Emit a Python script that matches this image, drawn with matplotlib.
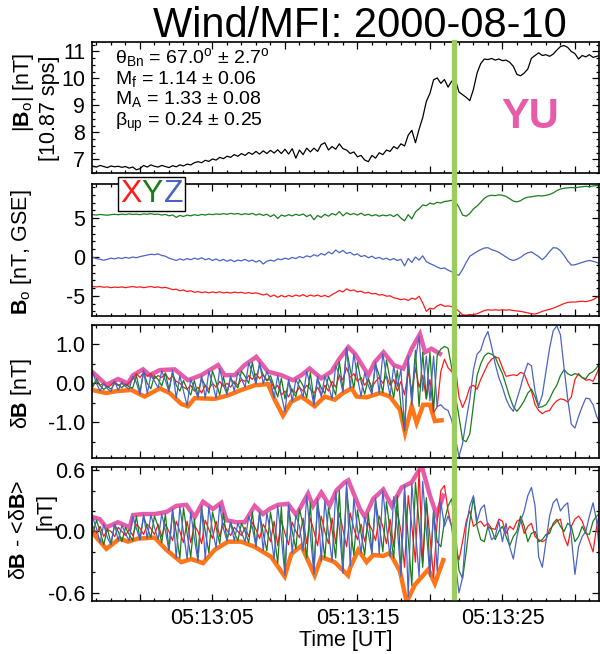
import numpy as np
import matplotlib
matplotlib.use("Agg")
import matplotlib.pyplot as plt
import matplotlib.transforms as mtransforms
from matplotlib.lines import Line2D
from matplotlib.patches import Rectangle
from matplotlib.ticker import MultipleLocator, FuncFormatter, FormatStrFormatter

plt.rcParams['font.family'] = ['Liberation Sans', 'DejaVu Sans']
plt.rcParams['mathtext.fontset'] = 'custom'
plt.rcParams['mathtext.rm'] = 'Liberation Sans'
plt.rcParams['mathtext.it'] = 'Liberation Sans:italic'
plt.rcParams['mathtext.bf'] = 'Liberation Sans:bold'
plt.rcParams['axes.unicode_minus'] = False

# sample times, seconds after 05:13:00 UT
t = np.round(np.arange(-3.25, 31.76, 0.25), 2)
t_shock = 21.66

# |Bo| [nT]
bmag = [6.75, 6.72, 6.78, 6.74, 6.70, 6.76, 6.73, 6.75, 6.71, 6.74, 6.68, 6.72,
        6.62, 6.66, 6.78, 6.72, 6.80, 6.75, 6.72, 6.78, 6.74, 6.70, 6.77, 6.73,
        6.80, 6.76, 6.83, 6.80, 6.88, 6.92, 6.88, 6.97, 6.93, 7.02, 6.98, 7.08,
        7.03, 7.12, 7.08, 7.18, 7.12, 7.22, 7.15, 7.26, 7.19, 7.30, 7.20, 7.32,
        7.22, 7.34, 7.24, 7.36, 7.22, 7.38, 7.20, 7.40, 7.05, 7.35, 7.18, 7.42,
        7.28, 7.42, 7.30, 7.55, 7.62, 7.35, 7.48, 7.38, 7.58, 7.40, 7.35, 7.22,
        7.28, 7.10, 7.15, 6.98, 6.92, 7.15, 7.05, 7.25, 7.18, 7.35, 7.30, 7.48,
        7.40, 7.58, 7.50, 7.90, 8.08, 7.62, 8.12, 8.55, 9.15, 9.45, 9.95, 10.02,
        9.82, 9.96, 9.68, 9.90, 9.95, 9.50, 9.40, 9.30, 9.18, 9.60, 10.20, 10.55,
        10.72, 10.70, 10.74, 10.68, 10.72, 10.66, 10.68, 10.60, 10.45, 10.15, 10.10, 10.20,
        10.35, 10.75, 10.85, 10.95, 10.85, 10.88, 10.82, 10.90, 11.05, 11.18, 11.22, 11.15,
        11.00, 10.92, 10.72, 10.85, 10.80, 10.88, 10.78, 10.82, 10.86]

# Bo GSE components [nT]
bx = [-3.80, -3.85, -3.80, -3.90, -3.85, -3.95, -3.88, -3.92, -3.85, -3.95, -3.88, -3.80,
      -3.90, -3.85, -3.95, -3.88, -3.80, -3.92, -3.85, -3.98, -3.90, -4.05, -4.20, -4.15,
      -4.35, -4.25, -4.45, -4.35, -4.55, -4.45, -4.60, -4.50, -4.62, -4.50, -4.60, -4.48,
      -4.62, -4.55, -4.65, -4.52, -4.60, -4.55, -4.68, -4.58, -4.70, -4.62, -4.75, -4.90,
      -4.75, -5.10, -4.90, -5.20, -4.95, -5.15, -4.95, -5.10, -4.90, -5.05, -4.85, -5.10,
      -4.90, -5.05, -4.90, -5.10, -4.95, -5.15, -4.85, -4.60, -4.30, -4.50, -4.10, -4.35,
      -4.25, -4.50, -4.40, -4.65, -4.55, -4.75, -4.70, -4.90, -4.85, -5.05, -5.00, -5.25,
      -5.35, -5.50, -5.40, -5.60, -5.30, -5.45, -5.05, -5.90, -7.00, -6.60, -6.70, -6.30,
      -6.10, -6.35, -6.30, -6.40, -6.55, -7.00, -7.45, -7.50, -7.40, -7.45, -7.30, -7.10,
      -6.90, -6.80, -6.85, -6.80, -6.85, -6.80, -6.85, -6.80, -6.90, -6.95, -7.00, -7.10,
      -7.20, -7.30, -7.35, -7.20, -7.00, -6.85, -6.75, -6.60, -6.40, -6.20, -6.00, -5.85,
      -5.80, -5.80, -5.75, -5.70, -5.75, -5.65, -5.50, -5.20, -5.05]
by = [5.45, 5.40, 5.48, 5.42, 5.38, 5.45, 5.50, 5.44, 5.52, 5.46, 5.55, 5.48,
      5.52, 5.45, 5.55, 5.50, 5.58, 5.48, 5.52, 5.40, 5.48, 5.30, 5.42, 5.10,
      5.35, 5.22, 5.40, 5.30, 5.45, 5.35, 5.48, 5.40, 5.52, 5.45, 5.55, 5.48,
      5.58, 5.50, 5.62, 5.52, 5.60, 5.45, 5.58, 5.48, 5.62, 5.40, 5.55, 5.35,
      5.50, 5.20, 5.45, 4.95, 5.40, 5.25, 5.45, 5.30, 5.50, 5.35, 5.55, 5.20,
      5.45, 4.80, 5.35, 5.10, 5.50, 5.25, 5.60, 5.40, 5.85, 5.30, 5.70, 5.45,
      5.60, 5.40, 5.65, 5.35, 5.50, 5.30, 5.45, 5.25, 5.40, 5.30, 5.45, 5.20,
      5.50, 5.00, 4.65, 5.45, 4.90, 5.80, 6.20, 6.70, 6.60, 6.95, 6.80, 7.05,
      6.95, 7.15, 7.20, 7.30, 7.15, 6.40, 5.40, 5.25, 5.60, 6.20, 6.55, 7.05,
      7.55, 7.85, 7.95, 7.90, 8.00, 7.95, 7.80, 7.50, 7.20, 7.10, 7.25, 7.55,
      7.70, 7.75, 7.85, 7.90, 7.85, 7.95, 8.05, 8.25, 8.55, 8.75, 8.85, 8.90,
      8.95, 8.90, 9.00, 9.05, 9.10, 9.05, 9.15, 9.20, 9.15]
bz = [-0.05, -0.20, -0.30, -0.42, -0.30, -0.15, -0.25, -0.10, -0.20, -0.05, -0.15, 0.00,
      -0.10, 0.05, 0.15, 0.25, 0.35, 0.30, 0.40, 0.20, 0.10, -0.15, -0.30, -0.45,
      -0.25, -0.40, -0.20, -0.35, -0.15, -0.30, -0.10, -0.35, -0.20, -0.45, -0.25, -0.50,
      -0.30, -0.55, -0.35, -0.60, -0.40, -0.50, -0.30, -0.55, -0.40, -0.65, -0.45, -0.90,
      -0.55, -0.40, -0.55, -0.25, -0.35, -0.15, -0.30, -0.05, -0.20, 0.05, -0.10, 0.15,
      0.00, 0.30, 0.10, 0.45, 0.25, 0.65, 0.40, 0.90, 0.55, 0.85, 0.45, 0.60,
      0.25, 0.40, 0.05, 0.20, -0.10, 0.10, -0.20, -0.05, -0.30, -0.15, -0.40, -0.20,
      -0.45, -0.30, -1.15, -0.20, -0.70, 0.00, -0.40, 0.15, -0.60, -0.85, -1.05, -1.30,
      -1.50, -1.40, -1.70, -1.90, -2.20, -2.35, -1.60, -0.70, 0.10, 0.40, 0.70, 0.95,
      1.15, 1.20, 0.95, 0.80, 0.60, 0.30, 0.00, -0.30, -0.45, -0.30, -0.05, 0.30,
      0.55, 0.65, 0.35, 0.05, -0.35, 0.10, 0.70, 1.20, 1.15, 0.80, 0.20, -0.50,
      -1.05, -1.00, -0.85, -0.70, -0.55, -0.45, -0.55, -0.70, -0.90]

# dB [nT]
dbx = [-0.05, 0.05, -0.05, 0.00, -0.10, -0.05, 0.05, -0.05, 0.00, -0.08, 0.02, 0.10,
       0.25, 0.15, 0.28, 0.18, 0.25, 0.12, 0.20, 0.15, 0.25, 0.10, 0.18, 0.05,
       0.00, -0.10, -0.15, -0.05, -0.20, -0.10, -0.25, -0.05, -0.15, 0.00, -0.10, 0.05,
       -0.08, 0.00, -0.10, 0.05, -0.05, 0.10, 0.05, 0.20, 0.10, 0.25, 0.12, 0.22,
       0.08, 0.10, -0.15, -0.05, -0.30, -0.20, -0.35, -0.15, -0.25, -0.10, -0.20, -0.05,
       -0.15, -0.25, -0.10, -0.30, -0.05, -0.20, 0.05, -0.10, 0.20, 0.10, 0.40, 0.15,
       0.25, 0.05, 0.15, -0.05, 0.10, -0.10, 0.05, 0.15, 0.00, 0.20, -0.05, 0.10,
       -0.20, 0.05, -0.30, 0.30, -0.20, 0.40, -0.10, 0.20, -0.40, 0.10, -0.75, -0.60,
       0.30, 0.62, 0.40, 0.30, 0.45, -0.35, -0.62, -0.40, -0.10, -0.05, -0.15, 0.10,
       0.30, 0.50, 0.62, 0.68, 0.65, 0.40, 0.18, 0.20, 0.22, 0.20, 0.28, 0.25,
       0.00, -0.20, -0.55, -0.70, -0.78, -0.72, -0.70, -0.55, -0.45, -0.40, -0.42, -0.48,
       -0.35, 0.10, 0.25, 0.15, 0.08, 0.10, 0.05, 0.25, 0.48]
dby = [-0.09, 0.12, -0.06, -0.16, -0.08, -0.15, 0.00, -0.05, -0.11, -0.02, -0.09, -0.12,
       0.20, -0.22, 0.28, 0.00, -0.14, 0.20, 0.10, -0.07, 0.27, -0.16, 0.28, -0.05,
       -0.20, 0.07, -0.15, -0.30, 0.07, -0.31, 0.13, -0.06, -0.25, 0.32, 0.03, -0.30,
       0.17, -0.23, 0.13, 0.00, -0.12, 0.32, 0.18, 0.00, 0.54, 0.04, 0.48, 0.21,
       0.06, 0.20, -0.08, -0.35, 0.13, -0.40, 0.04, -0.20, -0.34, 0.10, -0.06, -0.37,
       0.28, -0.45, 0.12, -0.12, -0.26, 0.18, -0.05, -0.30, 0.56, -0.17, 0.87, 0.36,
       -0.12, 0.54, 0.05, -0.28, 0.13, -0.22, 0.49, 0.20, -0.24, 0.60, 0.09, -0.37,
       0.34, -0.60, -1.22, 0.55, -0.40, 0.85, -0.60, 0.80, -0.40, 0.80, -0.70, 0.72,
       0.88, 0.95, 0.90, 0.40, -0.30, -0.85, -1.45, -1.50, -1.30, -0.55, 0.20, 0.50,
       0.70, 0.78, 0.75, 0.68, 0.45, 0.25, -0.05, -0.35, -0.60, -0.72, -0.60, -0.45,
       -0.25, -0.15, -0.35, -0.62, -0.60, -0.55, -0.40, -0.20, -0.05, 0.20, 0.35, 0.25,
       0.20, 0.25, 0.22, 0.15, 0.12, 0.25, 0.30, 0.40, 0.55]
dbz = [0.28, 0.00, -0.20, 0.00, -0.14, -0.21, 0.06, -0.18, 0.04, -0.08, -0.15, 0.18,
       0.02, -0.28, 0.34, -0.26, 0.20, 0.06, -0.12, 0.32, 0.08, -0.22, 0.34, -0.38,
       0.20, -0.20, -0.57, 0.10, -0.12, -0.37, 0.19, -0.38, 0.31, 0.00, -0.38, 0.38,
       -0.04, -0.29, 0.19, -0.20, 0.28, 0.12, -0.10, 0.53, 0.28, -0.02, 0.54, -0.01,
       0.31, 0.06, -0.38, 0.21, -0.31, -0.73, 0.10, -0.46, 0.10, -0.09, -0.35, 0.31,
       -0.08, -0.57, 0.18, -0.35, 0.18, -0.06, -0.40, 0.46, 0.21, -0.23, 0.93, -0.13,
       0.76, 0.14, -0.33, 0.28, -0.06, -0.28, 0.55, -0.26, 0.76, 0.18, -0.32, 0.44,
       -0.08, 0.36, -1.18, 0.70, -0.57, 0.60, 1.22, -0.20, 0.70, -0.45, 0.70, -0.60,
       -0.55, -0.65, -0.70, -0.95, -1.40, -1.88, -1.55, -0.95, -0.40, 0.35, 0.75, 0.85,
       1.15, 1.33, 0.95, 0.50, 0.15, -0.10, -0.40, -0.60, -0.72, -0.40, -0.10, 0.25,
       0.52, 0.45, -0.20, -0.58, -0.30, 0.30, 0.90, 1.35, 1.48, 1.25, 0.40, -0.40,
       -1.05, -1.15, -0.85, -0.60, -0.38, -0.40, -0.55, -0.85, -1.05]

# upstream envelopes of dB
up3_t = [-3.31, -2.32, -1.52, -0.83, -0.48, 0.21, 0.67, 1.36, 2.39, 3.31, 4.23, 5.38,
         5.84, 6.53, 7.22, 8.02, 8.83, 9.75, 10.55, 11.13, 11.70, 12.50, 13.20, 13.77,
         14.37, 14.83, 15.75, 16.20, 16.80, 17.50, 18.16, 18.74, 19.31, 19.66, 20.10, 20.69]
up3 = [0.30, -0.04, 0.11, 0.00, 0.21, 0.36, 0.21, 0.34, 0.36, 0.08, 0.21, 0.47,
       0.21, 0.21, 0.47, 0.68, 0.30, 0.21, 0.08, 0.21, 0.38, 0.13, 0.30, 0.64,
       0.93, 0.76, 0.21, 0.55, 0.80, 0.47, 0.38, 0.89, 1.27, 0.80, 0.89, 0.76]
lo3_t = [-3.31, -2.32, -1.63, -0.60, 0.32, 1.36, 2.05, 2.85, 3.31, 3.77, 5.15, 6.07,
         6.99, 7.91, 8.83, 9.29, 9.86, 10.44, 11.13, 12.05, 12.74, 13.43, 14.00, 14.60,
         14.94, 15.63, 16.55, 17.24, 17.93, 18.28, 18.74, 19.08, 19.54, 20.00, 20.34, 20.80]
lo3 = [-0.17, -0.25, -0.20, -0.17, -0.34, -0.13, -0.25, -0.53, -0.59, -0.38, -0.40, -0.31,
       -0.17, -0.05, -0.02, -0.42, -0.83, -0.47, -0.34, -0.59, -0.34, -0.42, -0.25, -0.13,
       -0.34, -0.36, -0.25, -0.34, -0.68, -1.27, -0.59, -1.02, -0.55, -0.55, -0.97, -0.95]

# dB - <dB> [nT]
hbx = [0.05, -0.02, 0.05, -0.05, 0.02, 0.00, -0.05, 0.04, 0.00, -0.04, 0.02, -0.04,
       0.07, 0.03, -0.03, 0.07, 0.03, -0.03, 0.07, -0.05, 0.07, 0.00, -0.09, 0.10,
       0.00, -0.11, 0.10, -0.11, 0.06, 0.00, -0.12, 0.11, 0.02, -0.07, 0.10, -0.05,
       0.08, 0.01, -0.04, 0.04, 0.00, -0.04, 0.04, -0.05, 0.09, 0.02, -0.07, 0.07,
       0.00, -0.10, 0.10, -0.14, 0.11, -0.02, -0.13, 0.09, 0.00, -0.06, 0.13, -0.12,
       0.13, 0.00, -0.14, 0.15, 0.00, -0.12, 0.13, -0.12, 0.18, 0.02, -0.15, 0.18,
       0.03, -0.08, 0.07, -0.10, 0.08, 0.02, -0.09, 0.15, 0.05, -0.12, 0.12, -0.15,
       0.20, 0.00, -0.35, 0.35, 0.05, -0.30, 0.60, -0.30, 0.30, -0.05, -0.45, 0.10,
       0.40, 0.45, 0.20, 0.05, -0.15, -0.28, -0.10, 0.10, 0.20, 0.05, 0.08, 0.10,
       0.05, 0.08, 0.03, 0.02, 0.12, 0.10, -0.02, 0.05, 0.02, 0.10, 0.12, -0.02,
       0.05, 0.08, -0.05, -0.08, -0.10, -0.08, 0.02, 0.06, 0.10, 0.12, -0.05, -0.14,
       0.05, 0.12, 0.15, 0.10, 0.00, -0.10, -0.20, 0.05, 0.22]
hby = [-0.02, 0.11, 0.00, -0.13, 0.03, -0.12, 0.07, 0.00, -0.10, 0.04, -0.03, -0.09,
       0.15, -0.08, 0.15, 0.04, -0.06, 0.15, 0.05, -0.11, 0.17, -0.18, 0.20, -0.01,
       -0.26, 0.23, -0.02, -0.25, 0.12, -0.26, 0.23, 0.00, -0.21, 0.19, 0.04, -0.12,
       0.18, -0.09, 0.09, -0.01, -0.09, 0.08, 0.00, -0.11, 0.19, -0.14, 0.18, -0.02,
       -0.19, 0.19, -0.03, -0.31, 0.24, -0.39, 0.24, 0.00, -0.17, 0.22, 0.06, -0.26,
       0.28, -0.38, 0.29, 0.04, -0.26, 0.23, 0.02, -0.26, 0.40, -0.37, 0.43, 0.05,
       -0.23, 0.21, -0.02, -0.23, 0.18, -0.20, 0.30, 0.07, -0.20, 0.29, 0.00, -0.26,
       0.35, -0.40, 0.40, -0.06, -0.53, 0.48, 0.08, -0.35, 0.33, -0.40, 0.19, -0.10,
       -0.15, 0.10, 0.25, 0.32, 0.00, -0.38, -0.46, -0.20, 0.10, 0.33, 0.05, -0.08,
       -0.10, 0.05, 0.02, -0.08, 0.00, 0.05, -0.05, -0.14, -0.05, 0.00, 0.15, 0.05,
       -0.10, -0.02, 0.00, -0.10, -0.08, -0.03, -0.02, 0.08, 0.12, 0.05, 0.00, 0.08,
       0.05, -0.10, -0.05, 0.05, -0.02, -0.03, 0.10, 0.15, 0.18]
hbz = [0.13, 0.03, -0.11, 0.07, -0.06, -0.13, 0.07, -0.09, 0.06, -0.02, -0.09, 0.15,
       0.03, -0.08, 0.16, -0.07, 0.16, 0.04, -0.08, 0.17, 0.01, -0.19, 0.22, -0.26,
       0.24, -0.01, -0.27, 0.19, -0.07, -0.29, 0.25, -0.27, 0.24, 0.01, -0.16, 0.26,
       0.03, -0.09, 0.09, -0.09, 0.08, -0.01, -0.10, 0.15, 0.04, -0.15, 0.19, -0.19,
       0.18, -0.01, -0.27, 0.25, -0.06, -0.43, 0.26, -0.21, 0.16, 0.05, -0.19, 0.35,
       -0.03, -0.42, 0.32, -0.29, 0.30, -0.02, -0.29, 0.39, 0.03, -0.41, 0.48, -0.34,
       0.32, 0.03, -0.21, 0.14, -0.02, -0.22, 0.33, -0.22, 0.40, 0.05, -0.25, 0.34,
       0.03, -0.44, 0.45, -0.64, 0.47, 0.02, -0.44, 0.49, 0.01, -0.44, 0.21, -0.39,
       0.29, 0.05, 0.15, 0.05, -0.30, -0.60, -0.45, 0.05, 0.25, 0.35, 0.10, 0.22,
       0.26, 0.05, -0.08, -0.05, 0.10, -0.10, 0.08, -0.15, -0.27, -0.05, 0.10, 0.20,
       0.35, 0.43, 0.25, -0.25, -0.35, -0.10, 0.15, 0.28, 0.32, 0.20, 0.25, 0.28,
       -0.05, -0.42, -0.15, -0.05, 0.00, 0.15, 0.28, 0.10, -0.30]

up4_t = [-3.24, -2.78, -2.32, -1.52, -0.71, -0.48, 0.21, 1.01, 1.82, 2.51, 3.20, 3.77,
         4.35, 5.03, 5.61, 5.95, 6.64, 7.22, 7.91, 8.48, 8.94, 9.52, 10.21, 10.78,
         11.59, 11.93, 12.51, 13.08, 13.54, 14.12, 14.37, 15.17, 15.52, 16.09, 16.78, 17.36,
         18.05, 18.74, 19.43, 20.00, 20.46, 20.92]
up4 = [0.14, 0.12, 0.04, 0.09, 0.04, 0.16, 0.17, 0.17, 0.19, 0.25, 0.26, 0.14,
       0.29, 0.22, 0.28, 0.11, 0.09, 0.09, 0.25, 0.17, 0.22, 0.26, 0.27, 0.16,
       0.37, 0.25, 0.38, 0.25, 0.40, 0.48, 0.50, 0.22, 0.14, 0.32, 0.41, 0.25,
       0.43, 0.48, 0.64, 0.35, 0.16, 0.35]
lo4_t = [-3.24, -2.32, -1.86, -1.40, -0.83, -0.14, 1.01, 1.82, 2.85, 3.54, 4.35, 5.15,
         6.07, 6.99, 7.91, 9.06, 9.98, 10.44, 11.13, 12.05, 12.51, 13.43, 14.35, 14.48,
         15.06, 15.63, 16.09, 16.78, 17.24, 17.93, 18.39, 18.97, 19.89, 20.34, 20.92]
lo4 = [-0.02, -0.17, -0.12, -0.07, -0.10, -0.07, -0.06, -0.18, -0.30, -0.27, -0.31, -0.18,
       -0.10, -0.10, -0.15, -0.25, -0.44, -0.22, -0.14, -0.43, -0.25, -0.30, -0.43, -0.36,
       -0.18, -0.30, -0.23, -0.24, -0.21, -0.39, -0.69, -0.52, -0.37, -0.51, -0.28]

stats = ["θ$_{\\rm Bn}$ = 67.0$^{\\rm o}$ ± 2.7$^{\\rm o}$",
         "M$_{\\rm f}$ = 1.14 ± 0.06",
         "M$_{\\rm A}$ = 1.33 ± 0.08",
         "β$_{\\rm up}$ = 0.24 ± 0.25"]
comp_names = ["X", "Y", "Z"]

c_x, c_y, c_z = '#ff1a1a', '#1a7d1a', '#4a64c6'
c_up, c_lo = '#e65cab', '#ff7518'
c_shock = '#9ccb5e'

fig = plt.figure(figsize=(6, 6.54), dpi=100)
L, W = 92 / 600, 507 / 600
def box(top, bot):
    return [L, 1 - bot / 654, W, (bot - top) / 654]
ax1 = fig.add_axes(box(42, 173))
ax2 = fig.add_axes(box(184, 316))
ax3 = fig.add_axes(box(325, 458))
ax4 = fig.add_axes(box(467, 601))
axes = [ax1, ax2, ax3, ax4]

ax1.plot(t, bmag, color='k', lw=0.9)

ax2.plot(t, by, color=c_y, lw=0.9)
ax2.plot(t, bz, color=c_z, lw=0.9)
ax2.plot(t, bx, color=c_x, lw=0.9)

ax3.plot(up3_t, up3, color=c_up, lw=3.2, solid_joinstyle='miter')
ax3.plot(lo3_t, lo3, color=c_lo, lw=3.2, solid_joinstyle='miter')
ax3.plot(t, dbx, color=c_x, lw=0.9)
ax3.plot(t, dby, color=c_y, lw=0.9)
ax3.plot(t, dbz, color=c_z, lw=0.9)

ax4.plot(up4_t, up4, color=c_up, lw=3.2, solid_joinstyle='miter')
ax4.plot(lo4_t, lo4, color=c_lo, lw=3.2, solid_joinstyle='miter')
ax4.plot(t, hbx, color=c_x, lw=0.9)
ax4.plot(t, hby, color=c_y, lw=0.9)
ax4.plot(t, hbz, color=c_z, lw=0.9)

ax1.set_ylim(6.5, 11.35)
ax2.set_ylim(-7.6, 9.4)
ax3.set_ylim(-1.92, 1.5)
ax4.set_ylim(-0.68, 0.63)

ax1.yaxis.set_major_locator(MultipleLocator(1))
ax1.yaxis.set_minor_locator(MultipleLocator(0.25))
ax2.yaxis.set_major_locator(MultipleLocator(5))
ax2.yaxis.set_minor_locator(MultipleLocator(1))
ax3.yaxis.set_major_locator(MultipleLocator(1.0))
ax3.yaxis.set_minor_locator(MultipleLocator(0.5))
ax3.yaxis.set_major_formatter(FormatStrFormatter('%.1f'))
ax4.yaxis.set_major_locator(MultipleLocator(0.6))
ax4.yaxis.set_minor_locator(MultipleLocator(0.2))
ax4.yaxis.set_major_formatter(FormatStrFormatter('%.1f'))

def time_label(v, pos):
    s = int(round(v))
    return '05:13:%02d' % s if s % 10 == 5 else ''

for ax in axes:
    ax.set_xlim(-3.31, 31.66)
    ax.xaxis.set_major_locator(MultipleLocator(5))
    ax.xaxis.set_minor_locator(MultipleLocator(1))
    ax.tick_params(which='both', direction='in', top=True, right=True,
                   labelsize=15.5, pad=5, width=0.9)
    ax.tick_params(which='major', length=5)
    ax.tick_params(which='minor', length=2.5)
    for sp in ax.spines.values():
        sp.set_linewidth(1.2)
    if ax is not ax4:
        ax.tick_params(labelbottom=False)
ax4.xaxis.set_major_formatter(FuncFormatter(time_label))
ax4.set_xlabel('Time [UT]', fontsize=15.5, labelpad=1)

fig.text(360 / 600, 1 - 37 / 654, 'Wind/MFI: 2000-08-10', fontsize=30,
         ha='center', va='baseline')

# y labels
lab = dict(rotation=90, ha='center', va='center', fontsize=15.5)
fig.text(24 / 600, 1 - 92 / 654, '|$\\mathbf{B}_{\\rm o}$| [nT]', **lab)
fig.text(50 / 600, 1 - 108 / 654, '[10.87 sps]', **lab)
fig.text(21 / 600, 1 - 252 / 654, '$\\mathbf{B}_{\\rm o}$ [nT, GSE]', **lab)
fig.text(22 / 600, 1 - 393 / 654, 'δ$\\mathbf{B}$ [nT]', **lab)
fig.text(20 / 600, 1 - 530 / 654, 'δ$\\mathbf{B}$ - <δ$\\mathbf{B}$>', **lab)
fig.text(46 / 600, 1 - 512 / 654, '[nT]', **lab)

# shock parameters
for s, yb in zip(stats, [0.836, 0.682, 0.528, 0.362]):
    ax1.text(0.045, yb, s, transform=ax1.transAxes, fontsize=14, va='baseline')
ax1.text(0.864, 0.43, 'YU', transform=ax1.transAxes, fontsize=30,
         fontweight='bold', color=c_up, ha='center', va='center')

# XYZ key
ax2.add_patch(Rectangle((0.051, 0.795), 0.133, 0.258, transform=ax2.transAxes,
                        facecolor='white', edgecolor='k', lw=1.0, clip_on=False, zorder=20))
for name, col, xc in zip(comp_names, [c_x, c_y, c_z], [0.077, 0.119, 0.161]):
    ax2.text(xc, 0.925, name, transform=ax2.transAxes, color=col, fontsize=23,
             ha='center', va='center', zorder=21)

# shock ramp marker across all panels
trans = mtransforms.blended_transform_factory(ax4.transData, fig.transFigure)
fig.add_artist(Line2D([t_shock, t_shock], [1 - 597 / 654, ax1.get_position().y1],
                      transform=trans, color=c_shock, lw=3.8, zorder=30))

fig.savefig('out.png', dpi=100)
